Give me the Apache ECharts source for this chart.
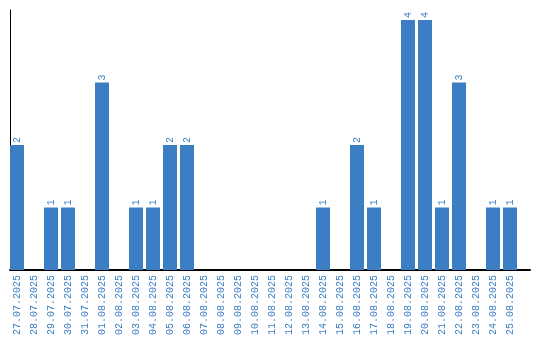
<!DOCTYPE html>
<html><head><meta charset="utf-8">
<script src="https://cdn.jsdelivr.net/npm/echarts@6/dist/echarts.min.js"></script>
<style>html,body{margin:0;padding:0;background:#fff}#c{width:540px;height:340px}</style>
</head><body><div id="c"></div>
<script>
const categories = ["27.07.2025","28.07.2025","29.07.2025","30.07.2025","31.07.2025","01.08.2025","02.08.2025","03.08.2025","04.08.2025","05.08.2025","06.08.2025","07.08.2025","08.08.2025","09.08.2025","10.08.2025","11.08.2025","12.08.2025","13.08.2025","14.08.2025","15.08.2025","16.08.2025","17.08.2025","18.08.2025","19.08.2025","20.08.2025","21.08.2025","22.08.2025","23.08.2025","24.08.2025","25.08.2025"];
const counts = [2,0,1,1,0,3,0,1,1,2,2,0,0,0,0,0,0,0,1,0,2,1,0,4,4,1,3,0,1,1];

const blue = '#3b7ec3';
const chart = echarts.init(document.getElementById('c'), null, {renderer:'canvas'});
chart.setOption({
  animation:false,
  grid:[
    {left:8.5,right:21.5,top:10,bottom:70,containLabel:false},
    {left:10,right:10,top:10,bottom:70,containLabel:false}
  ],
  xAxis:[
    {type:'category',gridIndex:0,data:categories,
     axisLine:{show:false},axisTick:{show:false},
     axisLabel:{interval:0,rotate:90,color:blue,fontFamily:'Liberation Mono',fontSize:10,margin:5}},
    {type:'value',gridIndex:1,min:0,max:1,
     axisLine:{show:true,onZero:false,lineStyle:{color:'#000',width:2}},
     axisTick:{show:false},axisLabel:{show:false},splitLine:{show:false}}
  ],
  yAxis:[
    {type:'value',gridIndex:0,min:0,max:4.16,
     axisLine:{show:false},axisTick:{show:false},axisLabel:{show:false},splitLine:{show:false}},
    {type:'value',gridIndex:1,min:0,max:1,
     axisLine:{show:true,onZero:false,lineStyle:{color:'#000',width:1}},
     axisTick:{show:false},axisLabel:{show:false},splitLine:{show:false}}
  ],
  series:[{
    type:'bar',xAxisIndex:0,yAxisIndex:0,data:counts,barWidth:14,
    itemStyle:{color:blue},
    label:{show:true,position:'top',rotate:90,align:'left',verticalAlign:'middle',distance:2,
      color:blue,fontFamily:'Liberation Mono',fontSize:10,
      formatter:p=>p.value>0?String(p.value):''}
  }]
});
</script></body></html>
